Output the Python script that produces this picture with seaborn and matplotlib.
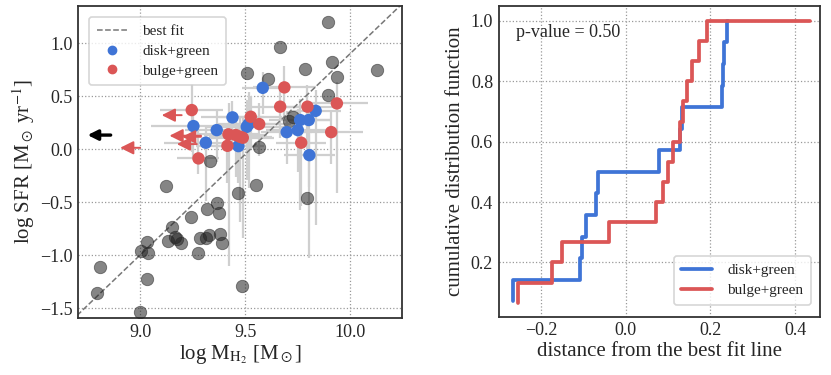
import numpy as np
import pandas as pd
import matplotlib
matplotlib.use("Agg")
import matplotlib.pyplot as plt
from matplotlib.lines import Line2D
import seaborn as sns

# ---------------- data ----------------
gray_x = [9.897, 9.664, 9.913, 10.13, 9.786, 9.937, 9.508, 9.611, 9.894, 9.73, 9.711,
          9.568, 9.333, 9.122, 9.552, 9.468, 9.794, 9.365, 9.321, 9.378, 9.241, 9.151,
          9.035, 9.135, 9.167, 9.175, 9.194, 9.283, 9.314, 9.33, 9.381, 9.389, 9.005,
          9.037, 9.278, 8.81, 9.032, 8.794, 9.484, 9.0]
gray_y = [1.20, 0.965, 0.82, 0.745, 0.76, 0.68, 0.714, 0.66, 0.51, 0.305, 0.267,
          0.02, -0.113, -0.349, -0.343, -0.418, -0.459, -0.506, -0.569, -0.607, -0.642, -0.733,
          -0.874, -0.868, -0.833, -0.849, -0.884, -0.837, -0.837, -0.808, -0.802, -0.884, -0.962,
          -0.984, -0.984, -1.11, -1.229, -1.355, -1.292, -1.538]

disk_x = [9.584, 9.836, 9.44, 9.762, 9.803, 9.254, 9.365, 9.508, 9.517, 9.698, 9.751, 9.313, 9.468, 9.806]
disk_y = [0.578, 0.361, 0.299, 0.274, 0.274, 0.217, 0.179, 0.21, 0.236, 0.16, 0.179, 0.06, 0.028, -0.057]
disk_xerr = [0.10, 0.12, 0.15, 0.15, 0.10, 0.20, 0.15, 0.20, 0.15, 0.12, 0.15, 0.20, 0.12, 0.12]
disk_ylo = [0.25, 1.08, 0.30, 0.85, 1.30, 0.30, 0.30, 0.50, 0.60, 0.30, 0.40, 0.55, 0.35, 0.30]
disk_yhi = [0.15, 0.20, 0.15, 0.20, 0.15, 0.20, 0.20, 0.25, 0.30, 0.20, 0.20, 0.15, 0.20, 0.20]

bulge_x = [9.687, 9.246, 9.667, 9.797, 9.937, 9.527, 9.567, 9.421, 9.456, 9.476, 9.489, 9.91, 9.416, 9.767, 9.278]
bulge_y = [0.582, 0.368, 0.40, 0.40, 0.431, 0.305, 0.236, 0.139, 0.132, 0.116, 0.107, 0.16, 0.031, 0.06, -0.088]
bulge_xerr = [0.15, 0.15, 0.15, 0.12, 0.15, 0.15, 0.15, 0.15, 0.15, 0.15, 0.15, 0.15, 0.15, 0.12, 0.10]
bulge_ylo = [0.30, 0.40, 0.30, 0.40, 0.85, 0.30, 0.30, 1.24, 0.40, 0.80, 0.95, 0.30, 0.35, 0.60, 0.15]
bulge_yhi = [0.20, 0.25, 0.20, 0.20, 0.20, 0.20, 0.20, 0.30, 0.20, 0.20, 0.20, 0.20, 0.20, 0.20, 0.30]

# upper limits in M_H2 (arrow tails)
bulge_lim_x = [9.198, 9.29, 9.29, 9.27, 9.0]
bulge_lim_y = [0.32, 0.126, 0.116, 0.047, 0.012]
bulge_lim_len = [0.095, 0.15, 0.09, 0.095, 0.095]
gray_lim_x = [8.86]
gray_lim_y = [0.132]
gray_lim_len = [0.11]

fit_slope = 1.9
fit_x0 = 9.0
fit_y0 = -1.0

# distances from best-fit line (sorted)
disk_dist = [-0.266, -0.108, -0.103, -0.093, -0.070, -0.066, 0.079, 0.128, 0.133,
             0.228, 0.229, 0.233, 0.240, 0.241]
bulge_dist = [-0.254, -0.174, -0.150, -0.040, 0.071, 0.089, 0.100, 0.111, 0.127,
              0.136, 0.144, 0.156, 0.173, 0.193, 0.436]
p_value = 0.50

BLUE = "#3f74d6"
RED = "#db5656"

# ---------------- style ----------------
sns.set_theme(style="white")
plt.rcParams["font.family"] = ["Liberation Serif", "DejaVu Serif"]
plt.rcParams["mathtext.fontset"] = "stix"
plt.rcParams["axes.edgecolor"] = "#333333"
plt.rcParams["axes.linewidth"] = 1.3

fig = plt.figure(figsize=(8.31, 3.75), dpi=100)
ax1 = fig.add_axes([0.094, 0.152, 0.390, 0.832])
ax2 = fig.add_axes([0.600, 0.155, 0.387, 0.829])

for ax in (ax1, ax2):
    ax.grid(True, linestyle=":", color="#999999", linewidth=0.9)
    ax.tick_params(labelsize=13, length=0, pad=4)
    for s in ax.spines.values():
        s.set_visible(True)
        s.set_color("#333333")

# ---------------- left panel ----------------
ax1.errorbar(disk_x, disk_y, xerr=disk_xerr, yerr=[disk_ylo, disk_yhi], fmt="none",
             ecolor="#cfcfcf", elinewidth=1.6, zorder=1)
ax1.errorbar(bulge_x, bulge_y, xerr=bulge_xerr, yerr=[bulge_ylo, bulge_yhi], fmt="none",
             ecolor="#cfcfcf", elinewidth=1.6, zorder=1)

xx = np.array([8.70, 10.25])
ax1.plot(xx, fit_slope * (xx - fit_x0) + fit_y0, ls="--", color="#777777", lw=1.1, zorder=2)

df_g = pd.DataFrame({"x": gray_x, "y": gray_y})
sns.scatterplot(data=df_g, x="x", y="y", ax=ax1, color="#222222", alpha=0.55, s=80,
                edgecolor="#222222", linewidth=0.6, zorder=3)
df_d = pd.DataFrame({"x": disk_x, "y": disk_y})
sns.scatterplot(data=df_d, x="x", y="y", ax=ax1, color=BLUE, s=80, edgecolor="none", zorder=4)
df_b = pd.DataFrame({"x": bulge_x, "y": bulge_y})
sns.scatterplot(data=df_b, x="x", y="y", ax=ax1, color=RED, s=80, edgecolor="none", zorder=4)

for x, y, L in zip(bulge_lim_x, bulge_lim_y, bulge_lim_len):
    ax1.annotate("", xy=(x - L, y), xytext=(x, y),
                 arrowprops=dict(arrowstyle="-|>", color=RED, lw=1.4, mutation_scale=20,
                                 shrinkA=0, shrinkB=0), zorder=5)
for x, y, L in zip(gray_lim_x, gray_lim_y, gray_lim_len):
    ax1.annotate("", xy=(x - L, y), xytext=(x, y),
                 arrowprops=dict(arrowstyle="-|>", color="black", lw=2.4, mutation_scale=15,
                                 shrinkA=0, shrinkB=0), zorder=5)

ax1.set_xlim(8.705, 10.248)
ax1.set_ylim(-1.594, 1.35)
ax1.set_xticks([9.0, 9.5, 10.0])
ax1.set_yticks([-1.5, -1.0, -0.5, 0.0, 0.5, 1.0])
ax1.set_xlabel(r"log M$_{\rm H_2}$ [M$_\odot$]", fontsize=15, labelpad=2)
ax1.set_ylabel(r"log SFR [M$_\odot$ yr$^{-1}$]", fontsize=15, labelpad=2)

handles = [Line2D([], [], ls="--", color="#777777", lw=1.1),
           Line2D([], [], ls="none", marker="o", color=BLUE, markersize=6),
           Line2D([], [], ls="none", marker="o", color=RED, markersize=6)]
leg1 = ax1.legend(handles, ["best fit", "disk+green", "bulge+green"], loc="upper left",
                  fontsize=11, frameon=True, handlelength=2.0, handletextpad=1.0,
                  borderpad=0.5, labelspacing=0.4, bbox_to_anchor=(0.01, 0.99))
leg1.get_frame().set_edgecolor("#cccccc")
leg1.get_frame().set_linewidth(1.2)

# ---------------- right panel ----------------
df_dd = pd.DataFrame({"d": disk_dist, "c": np.arange(1, len(disk_dist) + 1) / len(disk_dist)})
df_bd = pd.DataFrame({"d": bulge_dist, "c": np.arange(1, len(bulge_dist) + 1) / len(bulge_dist)})
sns.lineplot(data=df_dd, x="d", y="c", ax=ax2, color=BLUE, lw=2.7, drawstyle="steps-pre",
             estimator=None, sort=False, label="disk+green")
sns.lineplot(data=df_bd, x="d", y="c", ax=ax2, color=RED, lw=2.7, drawstyle="steps-pre",
             estimator=None, sort=False, label="bulge+green")
ax2.set_xlim(-0.30, 0.459)
ax2.set_ylim(0.02, 1.049)
ax2.set_xticks([-0.2, 0.0, 0.2, 0.4])
ax2.set_yticks([0.2, 0.4, 0.6, 0.8, 1.0])
ax2.set_xlabel("distance from the best fit line", fontsize=15, labelpad=2)
ax2.set_ylabel("cumulative distribution function", fontsize=15, labelpad=4)
ax2.text(0.053, 0.915, f"p-value = {p_value:.2f}", transform=ax2.transAxes, fontsize=13,
         va="center", ha="left")
leg2 = ax2.legend(loc="lower right", fontsize=11, frameon=True, handlelength=2.0,
                  handletextpad=1.0, borderpad=0.5, labelspacing=0.4,
                  bbox_to_anchor=(0.995, 0.015))
leg2.get_frame().set_edgecolor("#cccccc")
leg2.get_frame().set_linewidth(1.2)

fig.savefig("out.png", dpi=100)
